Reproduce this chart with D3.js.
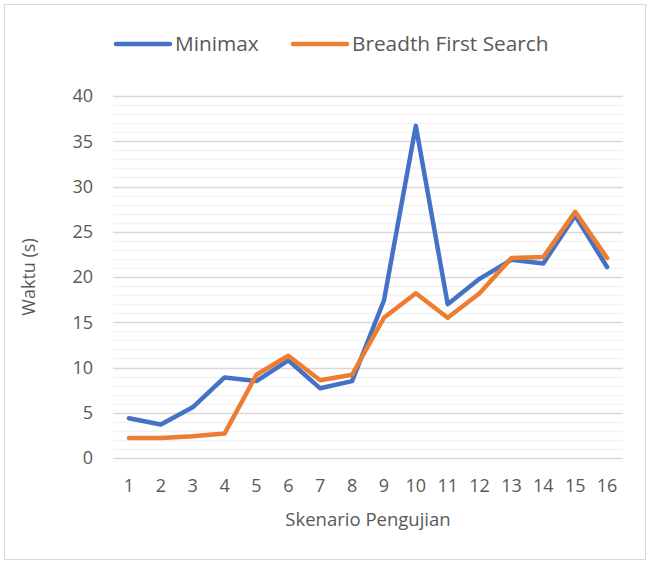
<!DOCTYPE html>
<html>
<head>
<meta charset="utf-8">
<script src="https://cdn.jsdelivr.net/npm/d3@7"></script>
<style>
  body { margin: 0; background: #fff; }
  text { font-family: "Open Sans", "Noto Sans", sans-serif; fill: #595959; }
</style>
</head>
<body>
<div id="plot"></div>
<script>
// chart data
const scenarios = d3.range(1, 17);
const minimax = [4.4, 3.7, 5.6, 8.9, 8.5, 10.8, 7.7, 8.5, 17.4, 36.7, 17.0, 19.8, 21.9, 21.5, 26.8, 21.1];
const bfs = [2.2, 2.2, 2.4, 2.7, 9.2, 11.3, 8.6, 9.2, 15.5, 18.2, 15.5, 18.2, 22.1, 22.2, 27.2, 22.1];
const yTicks = [0, 5, 10, 15, 20, 25, 30, 35, 40];
const seriesNames = ["Minimax", "Breadth First Search"];
const colors = ["#4472C4", "#ED7D31"];

const w = 647;
const h = 562;
const margin = {top: 96, right: 24, bottom: 104, left: 113};
const innerWidth = w - margin.left - margin.right;
const innerHeight = h - margin.top - margin.bottom;

const svg = d3.select("div#plot")
  .append("svg")
  .attr("width", w)
  .attr("height", h);

// outer frame
svg.append("rect")
  .attr("x", 4.5)
  .attr("y", 4.5)
  .attr("width", w - 6)
  .attr("height", h - 7)
  .attr("fill", "#fff")
  .attr("stroke", "#d9d9d9");

const xScale = d3.scaleBand()
  .domain(scenarios)
  .range([0, innerWidth]);

const yScale = d3.scaleLinear()
  .domain([0, 40])
  .range([innerHeight, 0]);

const g = svg.append("g")
  .attr("transform", `translate(${margin.left}, ${margin.top})`);

// minor gridlines (every 1)
g.append("g")
  .selectAll("line")
  .data(d3.range(0, 41).filter(v => v % 5 !== 0))
  .join("line")
  .attr("x1", 0)
  .attr("x2", innerWidth)
  .attr("y1", d => Math.round(yScale(d)) + 0.5)
  .attr("y2", d => Math.round(yScale(d)) + 0.5)
  .attr("stroke", "#f2f2f2")
  .attr("stroke-width", 1.5);

// major gridlines
g.append("g")
  .selectAll("line")
  .data(yTicks)
  .join("line")
  .attr("x1", 0)
  .attr("x2", innerWidth)
  .attr("y1", d => Math.round(yScale(d)) + 0.5)
  .attr("y2", d => Math.round(yScale(d)) + 0.5)
  .attr("stroke", "#d9d9d9")
  .attr("stroke-width", 1.3);

// y axis
const yAxis = d3.axisLeft(yScale)
  .tickValues(yTicks)
  .tickSize(0)
  .tickPadding(20);

g.append("g")
  .call(yAxis)
  .call(s => s.select(".domain").remove())
  .selectAll("text")
  .style("font-size", "18px")
  .style("fill", "#595959");

// x axis
const xAxis = d3.axisBottom(xScale)
  .tickSize(0)
  .tickPadding(21);

g.append("g")
  .attr("transform", `translate(0, ${innerHeight})`)
  .call(xAxis)
  .call(s => s.select(".domain").remove())
  .selectAll("text")
  .style("font-size", "18px")
  .style("fill", "#595959");

// lines
const line = d3.line()
  .x((d, i) => xScale(scenarios[i]) + xScale.bandwidth() / 2)
  .y(d => yScale(d));

[minimax, bfs].forEach((vals, i) => {
  g.append("path")
    .datum(vals)
    .attr("fill", "none")
    .attr("stroke", colors[i])
    .attr("stroke-width", 4.5)
    .attr("stroke-linejoin", "round")
    .attr("stroke-linecap", "round")
    .attr("d", line);
});

// axis titles
svg.append("text")
  .attr("transform", `translate(29, ${margin.top + innerHeight / 2}) rotate(-90)`)
  .attr("text-anchor", "middle")
  .attr("dy", "0.35em")
  .style("font-size", "18px")
  .text("Waktu (s)");

svg.append("text")
  .attr("x", margin.left + innerWidth / 2)
  .attr("y", 520)
  .attr("text-anchor", "middle")
  .attr("dy", "0.35em")
  .style("font-size", "18.5px")
  .text("Skenario Pengujian");

// legend
const legendX = [115, 292];
seriesNames.forEach((name, i) => {
  const lg = svg.append("g").attr("transform", `translate(${legendX[i]}, 44)`);
  lg.append("line")
    .attr("x1", 1)
    .attr("x2", 55)
    .attr("stroke", colors[i])
    .attr("stroke-width", 4.5)
    .attr("stroke-linecap", "round");
  lg.append("text")
    .attr("x", 60)
    .attr("dy", "0.35em")
    .style("font-size", "20.8px")
    .text(name);
});
</script>
</body>
</html>
